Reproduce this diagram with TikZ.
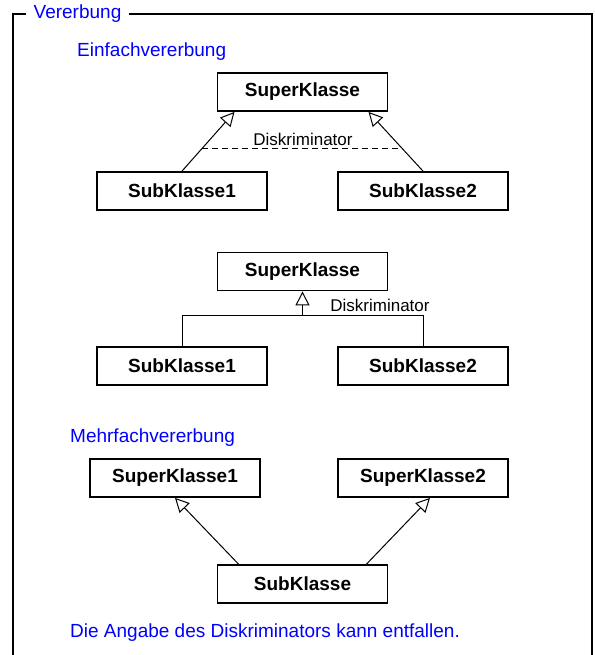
\documentclass[tikz,border=0pt]{standalone}
\usepackage{fontspec}
\setmainfont{Liberation Sans}
\usetikzlibrary{calc,arrows.meta}

\begin{document}
\begin{tikzpicture}[x=1pt,y=-1pt,
    klasse/.style={draw,line width=1.8pt,minimum width=170pt,minimum height=38pt,inner sep=0pt,font=\fontsize{19}{22}\selectfont\bfseries},
    hinweis/.style={text=blue,inner sep=0pt,anchor=west,font=\fontsize{19}{22}\selectfont},
    disk/.style={inner sep=0pt,font=\fontsize{17}{20}\selectfont},
    link/.style={-{Triangle[open,length=14pt,width=14pt]},line width=1pt},
    rahmen/.style={line width=1.9pt}]
      \useasboundingbox (0,0) rectangle (594,655);

      % Rahmen
      \node[text=blue,inner xsep=7pt,inner ysep=0pt,font=\fontsize{19}{22}\selectfont] (titel) at (77.5,14) {Vererbung};
      \draw[rahmen] (titel.west) -| (13,656);
      \draw[rahmen] (titel.east) -| (592,656);

      % Einfachvererbung mit Diskriminator an den Pfeilen
      \node[hinweis] (einfach) at (77,52) {Einfachvererbung};
      \node[klasse] (super1) at (302.5,92) {SuperKlasse};
      \node[klasse] (sub1) at (182,191) {SubKlasse1};
      \node[klasse] (sub2) at (423,191) {SubKlasse2};
      \coordinate (spitze1) at ($ (super1.south) + (-68,0) $);
      \coordinate (spitze2) at ($ (super1.south) + (66,0) $);

      \draw[link] (sub1.north) -- (spitze1);
      \draw[link] (sub2.north) -- (spitze2);
      \draw[dash pattern=on 6pt off 4pt,line width=1pt] ($ (sub1.north)!0.38!(spitze1) $) -- ($ (sub2.north)!0.38!(spitze2) $);
      \node[disk] (disk1) at (303,139) {Diskriminator};

      % Einfachvererbung mit gemeinsamer Linie
      \node[klasse] (super2) at (302.5,271.5) {SuperKlasse};
      \node[klasse] (sub3) at (182,366) {SubKlasse1};
      \node[klasse] (sub4) at (423,366) {SubKlasse2};
      \coordinate (gabel) at ($ (super2.south) + (0,24) $);

      \draw[link] (gabel) -- (super2.south);
      \draw[line width=1pt] (sub3.north) |- (gabel) -| (sub4.north);
      \node[disk] (disk2) at (380,305) {Diskriminator};

      % Mehrfachvererbung
      \node[hinweis] (mehrfach) at (70,438) {Mehrfachvererbung};
      \node[klasse] (super3) at (175,478) {SuperKlasse1};
      \node[klasse] (super4) at (423,478) {SuperKlasse2};
      \node[klasse] (sub5) at (302.5,584) {SubKlasse};

      \draw[link] ($ (sub5.north) + (-64,0) $) -- (super3.south);
      \draw[link] ($ (sub5.north) + (64,0) $) -- ($ (super4.south) + (7,0) $);

      \node[hinweis] (anmerkung) at (70,633) {Die Angabe des Diskriminators kann entfallen.};
    \end{tikzpicture}
\end{document}
